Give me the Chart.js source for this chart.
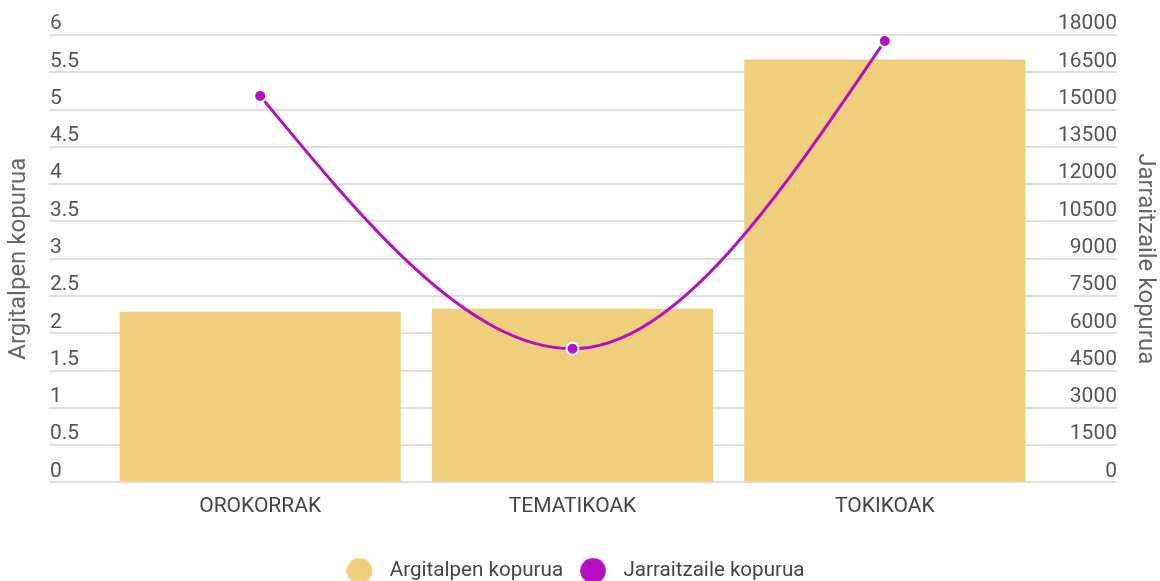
<!DOCTYPE html>
<html>
<head>
<meta charset="utf-8">
<script src="https://cdn.jsdelivr.net/npm/chart.js@4.4.0/dist/chart.umd.min.js"></script>
<style>
  html, body { margin: 0; padding: 0; background: #fff; }
  #wrap { width: 1160px; height: 581px; }
</style>
</head>
<body>
<div id="wrap"><canvas id="myChart"></canvas></div>
<script>
// data
const categories = ['OROKORRAK', 'TEMATIKOAK', 'TOKIKOAK'];
const postCounts = [2.29, 2.33, 5.67];          // left axis
const followerCounts = [15550, 5380, 17760];    // right axis
const seriesNames = ['Argitalpen kopurua', 'Jarraitzaile kopurua'];
const seriesColors = ['#f0cf7c', '#b50fc2'];

Chart.defaults.font.family = 'Roboto';

// round legend markers inside a 40px wide box
function dot(color) {
    const c = document.createElement('canvas');
    c.width = 26; c.height = 26;
    const g = c.getContext('2d');
    g.fillStyle = color;
    g.beginPath();
    g.arc(13, 13, 12.8, 0, Math.PI * 2);
    g.fill();
    return c;
}
const dots = seriesColors.map(dot);

// monotone-in-x smoothing with steeper end slopes (like the original chart)
const monotoneX = {
    id: 'monotoneX',
    beforeDatasetDraw(chart, args) {
        const meta = args.meta;
        if (meta.type !== 'line') return;
        meta.dataset.updateControlPoints(chart.chartArea, 'x');
        const pts = meta.data;
        const n = pts.length;
        const h = [], s = [], t = [];
        for (let i = 0; i < n - 1; i++) {
            h[i] = pts[i + 1].x - pts[i].x;
            s[i] = (pts[i + 1].y - pts[i].y) / h[i];
        }
        for (let i = 1; i < n - 1; i++) {
            const p = (s[i - 1] * h[i] + s[i] * h[i - 1]) / (h[i - 1] + h[i]);
            t[i] = (Math.sign(s[i - 1]) + Math.sign(s[i])) *
                Math.min(Math.abs(s[i - 1]), Math.abs(s[i]), 0.5 * Math.abs(p)) || 0;
        }
        t[0] = (3 * s[0] - t[1]) / 2;
        t[n - 1] = (3 * s[n - 2] - t[n - 2]) / 2;
        pts.forEach((pt, i) => {
            if (i > 0) {
                pt.cp1x = pt.x - h[i - 1] / 3;
                pt.cp1y = pt.y - h[i - 1] * t[i] / 3;
            }
            if (i < n - 1) {
                pt.cp2x = pt.x + h[i] / 3;
                pt.cp2y = pt.y + h[i] * t[i] / 3;
            }
        });
    }
};

const gridColor = '#dedede';

const data = {
    labels: categories,
    datasets: [{
        type: 'bar',
        label: seriesNames[0],
        data: postCounts,
        backgroundColor: seriesColors[0],
        yAxisID: 'y',
        barPercentage: 0.9,
        categoryPercentage: 1,
        order: 1
    }, {
        type: 'line',
        label: seriesNames[1],
        data: followerCounts,
        borderColor: seriesColors[1],
        backgroundColor: seriesColors[1],
        borderWidth: 3,
        cubicInterpolationMode: 'monotone',
        pointRadius: 6,
        pointBorderColor: '#fff',
        pointBorderWidth: 2,
        yAxisID: 'y1',
        order: 0
    }]
};

const config = {
    data,
    plugins: [monotoneX],
    options: {
        responsive: true,
        maintainAspectRatio: false,
        animation: false,
        layout: { padding: { top: 35, left: 0, right: 16, bottom: -10 } },
        scales: {
            x: {
                grid: { display: false },
                border: { display: false },
                ticks: { color: '#444', font: { size: 21 }, padding: 4 },
                afterFit: s => { s.height = 68; }
            },
            y: {
                position: 'left',
                min: 0, max: 6,
                border: { display: false },
                grid: { color: gridColor, lineWidth: 2, tickLength: 55 },
                ticks: {
                    stepSize: 0.5, autoSkip: false, mirror: true, padding: -54, labelOffset: -11,
                    color: '#555', font: { size: 21 },
                    callback: v => String(v)
                },
                title: {
                    display: true, text: seriesNames[0], color: '#666',
                    font: { size: 24 }, padding: { top: 5, bottom: 0 }
                },
                afterFit: s => { s.width = 104; s.paddingTop = 0; s.paddingBottom = 0; }
            },
            y1: {
                position: 'right',
                min: 0, max: 18000,
                border: { display: false },
                grid: { color: gridColor, lineWidth: 2, tickLength: 76, drawOnChartArea: false },
                ticks: {
                    stepSize: 1500, autoSkip: false, mirror: true, padding: 76, labelOffset: -11,
                    color: '#555', font: { size: 21 },
                    callback: v => String(v)
                },
                title: {
                    display: true, text: seriesNames[1], color: '#666',
                    font: { size: 24 }, padding: { top: -15, bottom: 0 }
                },
                afterFit: s => { s.width = 103; s.paddingTop = 0; s.paddingBottom = 0; }
            }
        },
        plugins: {
            tooltip: { enabled: false },
            legend: {
                position: 'bottom',
                labels: {
                    usePointStyle: true,
                    pointStyleWidth: 40,
                    color: '#444',
                    font: { size: 20.6 },
                    sort: (a, b) => a.datasetIndex - b.datasetIndex,
                    generateLabels: chart => {
                        const items = Chart.defaults.plugins.legend.labels.generateLabels(chart);
                        items.forEach(it => { it.pointStyle = dots[it.datasetIndex]; });
                        return items;
                    }
                }
            }
        }
    }
};

const myChart = new Chart(document.getElementById('myChart'), config);
</script>
</body>
</html>
